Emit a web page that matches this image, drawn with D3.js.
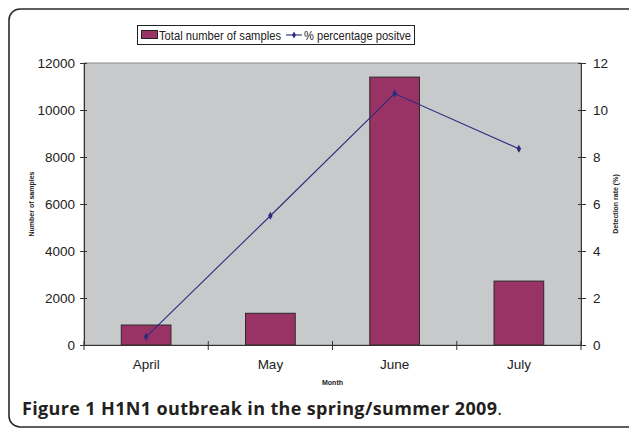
<!DOCTYPE html>
<html>
<head>
<meta charset="utf-8">
<script src="https://cdn.jsdelivr.net/npm/d3@7"></script>
<style>
  body { margin: 0; background: #fff; }
  svg { display: block; font-family: "Liberation Sans", Arial, sans-serif; }
</style>
</head>
<body>
<div id="chart"></div>
<script>
const months = ['April', 'May', 'June', 'July'];
const samples = [850, 1350, 11400, 2720];
const positive = [0.35, 5.5, 10.7, 8.35];
const leftTicks = [0, 2000, 4000, 6000, 8000, 10000, 12000];
const rightTicks = [0, 2, 4, 6, 8, 10, 12];

const W = 629, H = 428;
const plot = { left: 84, right: 581, top: 63, bottom: 345 };
const font = '"Liberation Sans", Arial, sans-serif';

const svg = d3.select('#chart').append('svg')
  .attr('width', W)
  .attr('height', H);

// outer frame, runs off the right and bottom edge
svg.append('rect')
  .attr('x', 9).attr('y', 9)
  .attr('width', 640).attr('height', 418)
  .attr('rx', 11)
  .attr('fill', 'none')
  .attr('stroke', '#2b2b2b')
  .attr('stroke-width', 1.6);

const x = d3.scaleBand().domain(months).range([plot.left, plot.right]);
const yL = d3.scaleLinear().domain([0, 12000]).range([plot.bottom, plot.top]);
const yR = d3.scaleLinear().domain([0, 12]).range([plot.bottom, plot.top]);

// plot area
svg.append('rect')
  .attr('x', plot.left).attr('y', plot.top)
  .attr('width', plot.right - plot.left)
  .attr('height', plot.bottom - plot.top)
  .attr('fill', '#c8c9cb')
  .attr('stroke', '#8a8a8a')
  .attr('stroke-width', 1);

const barW = x.bandwidth() * 0.4;
svg.selectAll('rect.bar')
  .data(months)
  .enter()
  .append('rect')
  .attr('class', 'bar')
  .attr('x', d => x(d) + x.bandwidth() / 2 - barW / 2)
  .attr('y', (d, i) => yL(samples[i]))
  .attr('width', barW)
  .attr('height', (d, i) => plot.bottom - yL(samples[i]))
  .attr('fill', '#993366')
  .attr('stroke', '#2a2a2a')
  .attr('stroke-width', 1);

// axes (Excel-style cross ticks)
const axisCol = '#333';
const gL = svg.append('g').attr('transform', `translate(${plot.left},0)`)
  .call(d3.axisLeft(yL).tickValues(leftTicks).tickFormat(d3.format('d')).tickSize(4).tickPadding(5));
const gR = svg.append('g').attr('transform', `translate(${plot.right},0)`)
  .call(d3.axisRight(yR).tickValues(rightTicks).tickSize(5).tickPadding(7));
[gL, gR].forEach(g => {
  g.attr('font-family', font);
  g.select('.domain').attr('stroke', axisCol);
  g.selectAll('.tick line').attr('stroke', axisCol);
  g.selectAll('text').attr('fill', '#222').style('font-size', '13.5px');
});
gL.selectAll('.tick line').attr('x1', 3);
gR.selectAll('.tick line').attr('x1', -3);

const gX = svg.append('g').attr('transform', `translate(0,${plot.bottom})`)
  .attr('font-family', font)
  .call(d3.axisBottom(x).tickSize(0).tickPadding(14));
gX.select('.domain').attr('stroke', axisCol);
gX.selectAll('text').attr('fill', '#222').style('font-size', '13.5px');
// category separators
gX.selectAll('line.sep')
  .data(months.concat(['end']))
  .enter()
  .append('line')
  .attr('class', 'sep')
  .attr('x1', (d, i) => i < months.length ? x(d) : plot.right)
  .attr('x2', (d, i) => i < months.length ? x(d) : plot.right)
  .attr('y1', -4).attr('y2', 5)
  .attr('stroke', axisCol);

// line series
const lineCol = '#2b2b80';
const line = d3.line()
  .x((d, i) => x(months[i]) + x.bandwidth() / 2)
  .y(d => yR(d));
svg.append('path')
  .datum(positive)
  .attr('d', line)
  .attr('fill', 'none')
  .attr('stroke', lineCol)
  .attr('stroke-width', 1.1);
svg.selectAll('path.pt')
  .data(positive)
  .enter()
  .append('path')
  .attr('class', 'pt')
  .attr('d', d3.symbol(d3.symbolDiamond, 18))
  .attr('transform', (d, i) => `translate(${x(months[i]) + x.bandwidth() / 2},${yR(d)})`)
  .attr('fill', lineCol);

// axis titles
svg.append('text')
  .attr('transform', `translate(34,${(plot.top + plot.bottom) / 2}) rotate(-90)`)
  .attr('text-anchor', 'middle')
  .style('font-size', '7px').style('font-weight', 'bold')
  .attr('fill', '#222')
  .text('Number of samples');
svg.append('text')
  .attr('transform', `translate(618,${(plot.top + plot.bottom) / 2}) rotate(-90)`)
  .attr('text-anchor', 'middle')
  .style('font-size', '7px').style('font-weight', 'bold')
  .attr('fill', '#222')
  .text('Detection rate (%)');
svg.append('text')
  .attr('x', (plot.left + plot.right) / 2).attr('y', 385)
  .attr('text-anchor', 'middle')
  .style('font-size', '7px').style('font-weight', 'bold')
  .attr('fill', '#222')
  .text('Month');

// legend
const lg = svg.append('g');
lg.append('rect')
  .attr('x', 137.5).attr('y', 25.5).attr('width', 277).attr('height', 19)
  .attr('fill', '#fff').attr('stroke', '#222');
lg.append('rect')
  .attr('x', 141.5).attr('y', 30.5).attr('width', 16).attr('height', 8)
  .attr('fill', '#993366').attr('stroke', '#222');
lg.append('text')
  .attr('x', 159).attr('y', 40)
  .attr('textLength', 122).attr('lengthAdjust', 'spacingAndGlyphs')
  .style('font-size', '13.5px').attr('fill', '#222')
  .text('Total number of samples');
lg.append('line')
  .attr('x1', 286).attr('x2', 302).attr('y1', 35).attr('y2', 35)
  .attr('stroke', lineCol).attr('stroke-width', 1.1);
lg.append('path')
  .attr('d', d3.symbol(d3.symbolDiamond, 14))
  .attr('transform', 'translate(294,35)')
  .attr('fill', lineCol);
lg.append('text')
  .attr('x', 304).attr('y', 40)
  .attr('textLength', 107).attr('lengthAdjust', 'spacingAndGlyphs')
  .style('font-size', '13.5px').attr('fill', '#222')
  .text('% percentage positve');

// caption
const cap = svg.append('text')
  .attr('x', 22).attr('y', 415)
  .style('font-family', '"Open Sans", "Noto Sans", sans-serif')
  .style('font-size', '18px')
  .attr('fill', '#231f20');
cap.append('tspan').style('font-weight', 'bold')
  .attr('textLength', 475).attr('lengthAdjust', 'spacing')
  .text('Figure 1 H1N1 outbreak in the spring/summer 2009');
cap.append('tspan').text('.');
</script>
</body>
</html>
